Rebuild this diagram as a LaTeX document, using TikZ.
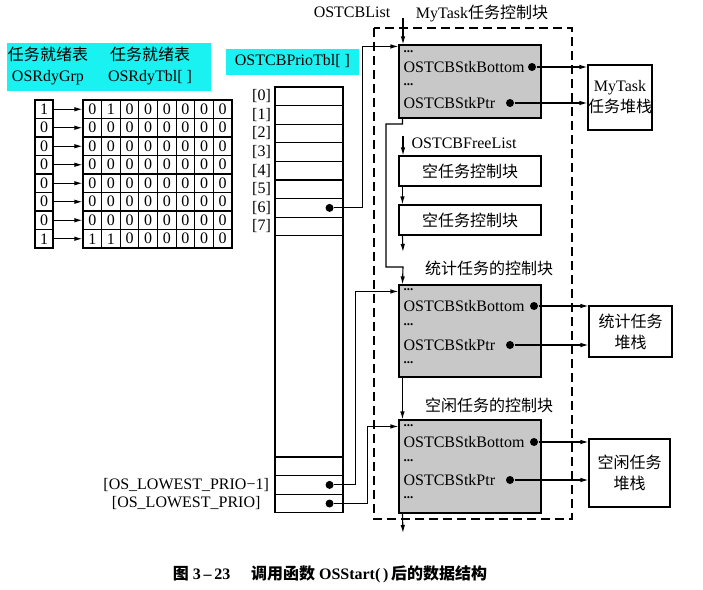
\documentclass[tikz,border=0pt]{standalone}
\usepackage{fontspec}
\setmainfont{Liberation Serif}
\newfontfamily\zhfont{Noto Sans CJK SC}
\usetikzlibrary{arrows.meta,calc,positioning}
\definecolor{Mark}{HTML}{1AF2F2}
\definecolor{Block}{HTML}{C8C8C8}

\begin{document}
\begin{tikzpicture}[x=1pt,y=-1pt,line width=1.1pt,
    font=\fontsize{16}{21}\selectfont,
    zh/.style={font=\zhfont\fontsize{16}{21}\selectfont},
    cell/.style={draw,inner sep=0pt,minimum width=18.625pt,minimum height=18.5pt},
    prio/.style={draw,inner sep=0pt,minimum width=68pt,minimum height=18.6pt},
    tcb/.style={draw,fill=Block,inner sep=0pt,minimum width=142pt},
    freebox/.style={zh,draw,inner sep=0pt,minimum width=142pt,minimum height=30pt},
    stack/.style={zh,draw,align=center,inner sep=0pt},
    field/.style={anchor=west,inner sep=0pt},
    gap/.style={field,font=\bfseries\fontsize{13}{13}\selectfont},
    dot/.style={circle,fill,inner sep=0pt,minimum size=8pt},
    flow/.style={-{Latex[length=8pt,width=4.5pt]}}]
  \useasboundingbox (0,0) rectangle (703,589);

  \node[fill=Mark,minimum width=204pt,minimum height=48pt] (rdyhl) at (109,67) {};
  \node[align=center] (grptxt) at (48,66) {{\zhfont 任务就绪表}\\OSRdyGrp};
  \node[align=center] (tbltxt) at (150,66) {{\zhfont 任务就绪表}\\OSRdyTbl[ ]};
  \foreach \r/\g/\row in {0/1/{0,1,0,0,0,0,0,0},1/0/{0,0,0,0,0,0,0,0},
      2/0/{0,0,0,0,0,0,0,0},3/0/{0,0,0,0,0,0,0,0},4/0/{0,0,0,0,0,0,0,0},
      5/0/{0,0,0,0,0,0,0,0},6/0/{0,0,0,0,0,0,0,0},7/1/{1,1,0,0,0,0,0,0}} {
    \node[cell,minimum width=18pt] (g\r) at (44,109.25+18.5*\r) {\g};
    \foreach \v [count=\c from 0] in \row
      \node[cell] (t\r-\c) at (92.3+18.625*\c,109.25+18.5*\r) {\v};
    \draw[flow] (g\r) -- (t\r-0);
  }

  \node[fill=Mark,minimum width=133pt,minimum height=26pt] (priohl) at (292.5,61.5) {OSTCBPrioTbl[ ]};
  \foreach \i in {0,...,7} {
    \node[prio] (p\i) at (309,96.3+18.6*\i) {};
    \node[left=3pt of p\i,inner sep=0pt] (pl\i) {[\i]};
  }
  \node[prio,minimum height=221.2pt] (pmid) at (309,346.4) {};
  \node[prio] (pgap) at (309,466.3) {};
  \node[prio] (plm1) at (309,484.9) {};
  \node[prio] (plow) at (309,503.5) {};
  \node[left=5pt of plm1,inner sep=0pt] (lm1) {[OS\_LOWEST\_PRIO−1]};
  \node[below=4pt of lm1,inner sep=0pt] (lw) {[OS\_LOWEST\_PRIO]};

  \draw[dash pattern=on 9pt off 5pt] (374,28) rectangle (572,519);
  \node (lsttxt) at (352,12) {OSTCBList};
  \node (tcb1txt) at (482,13) {MyTask{\zhfont 任务控制块}};

  \node[tcb,minimum height=73pt] (tcb1) at (470,81.5) {};
  \node[gap] (a1) at (403,52) {...};
  \node[field] (a2) at (403,67) {OSTCBStkBottom};
  \node[gap] (a3) at (403,85) {...};
  \node[field] (a4) at (403,103) {OSTCBStkPtr};
  \node[dot] (bot1) at (532,67) {};
  \node[dot] (ptr1) at (510,103) {};
  \node[stack,minimum width=62pt,minimum height=65pt] (stk1) at (620,97.5) {{\rmfamily MyTask}\\任务堆栈};
  \draw[flow] (bot1) -- (stk1.west |- bot1);
  \draw[flow] (ptr1) -- (stk1.west |- ptr1);

  \coordinate (lst) at (403,18);
  \draw[flow] (lst) -- (lst |- tcb1.north);
  \node[dot] (d6) at ([xshift=-14pt]p6.east) {};
  \draw[flow] (d6) -- ++(33,0) |- ([yshift=-2pt]tcb1.north west);

  \node[field] (fltxt) at (411,143) {OSTCBFreeList};
  \node[freebox] (free1) at (470,171) {空任务控制块};
  \node[freebox] (free2) at (470,220) {空任务控制块};
  \coordinate (fl) at (403,136);
  \coordinate (fend) at (403,252);
  \draw[flow] (fl) -- (fl |- free1.north);
  \draw[flow] ([xshift=4pt]free1.south west) -- ([xshift=4pt]free2.north west);
  \draw[flow] ([xshift=4pt]free2.south west) -- (fend);

  \node[zh] (tcb2txt) at (489,268) {统计任务的控制块};
  \node[tcb,minimum height=92pt] (tcb2) at (470,331) {};
  \node[gap] (b1) at (403,290) {...};
  \node[field] (b2) at (403,306) {OSTCBStkBottom};
  \node[gap] (b3) at (403,325) {...};
  \node[field] (b4) at (403,345) {OSTCBStkPtr};
  \node[gap] (b5) at (403,363) {...};
  \node[dot] (bot2) at (534,306) {};
  \node[dot] (ptr2) at (510,345) {};
  \node[stack,minimum width=83pt,minimum height=51pt] (stk2) at (630.5,331.5) {统计任务\\堆栈};
  \draw[flow] (bot2) -- (stk2.west |- bot2);
  \draw[flow] (ptr2) -- (stk2.west |- ptr2);
  \draw[flow] ([xshift=4pt]tcb1.south west) |- (386,124) |- (403,267) -- ([xshift=4pt]tcb2.north west);

  \node[zh] (tcb3txt) at (489,405) {空闲任务的控制块};
  \node[tcb,minimum height=93pt] (tcb3) at (470,466.5) {};
  \node[gap] (c1) at (403,426) {...};
  \node[field] (c2) at (403,442) {OSTCBStkBottom};
  \node[gap] (c3) at (403,461) {...};
  \node[field] (c4) at (403,480) {OSTCBStkPtr};
  \node[gap] (c5) at (403,498) {...};
  \node[dot] (bot3) at (534,442) {};
  \node[dot] (ptr3) at (510,480) {};
  \node[stack,minimum width=81pt,minimum height=68pt] (stk3) at (629.5,473) {空闲任务\\堆栈};
  \draw[flow] (bot3) -- (stk3.west |- bot3);
  \draw[flow] (ptr3) -- (stk3.west |- ptr3);
  \draw[flow] ([xshift=4pt]tcb2.south west) -- ([xshift=4pt]tcb3.north west);
  \coordinate (tend) at (403,533);
  \draw[flow] ([xshift=4pt]tcb3.south west) -- (tend);

  \node[dot] (dlm1) at ([xshift=-14pt]plm1.east) {};
  \node[dot] (dlow) at ([xshift=-14pt]plow.east) {};
  \draw[flow] (dlm1) -- ++(26,0) |- ([yshift=-7pt]tcb2.north west);
  \draw[flow] (dlow) -- ++(38,0) |- ([yshift=-7pt]tcb3.north west);

  \node[font=\bfseries\fontsize{16}{21}\selectfont] (cap) at (330,574)
    {{\zhfont 图} 3\,–\,23\hspace{1.3em}{\zhfont 调用函数} OSStart(\,)\,{\zhfont 后的数据结构}};
\end{tikzpicture}
\end{document}
